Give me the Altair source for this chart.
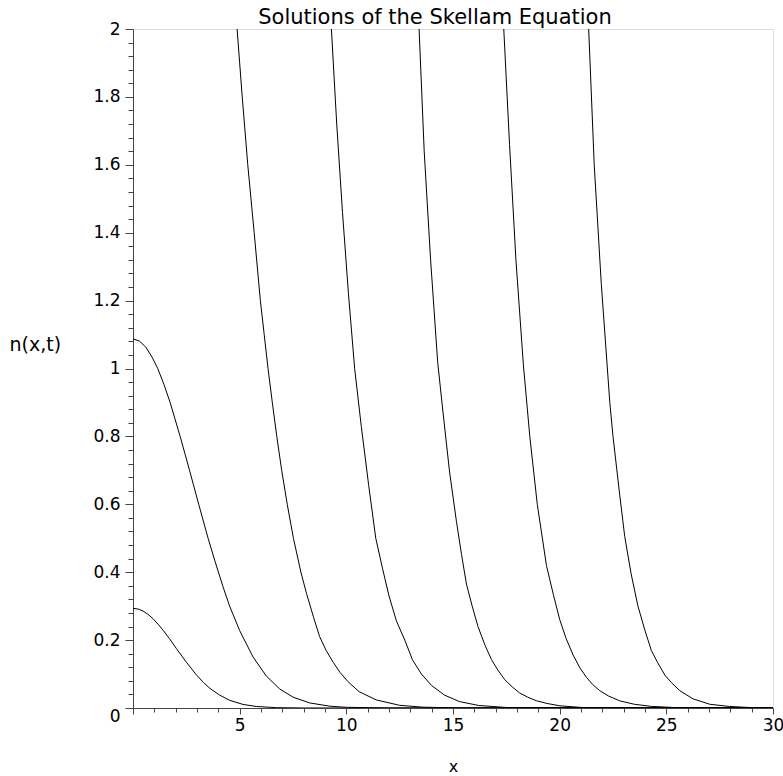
import altair as alt
import pandas as pd

# ---- data ----
c1_x = [0, 0.25, 0.47, 0.7, 0.94, 1.2, 1.41, 1.7, 2.03, 2.5, 2.97, 3.3, 3.6, 4.06, 4.53, 5.16, 5.78, 6.72, 8.0, 10.0, 30.0]
c1_y = [0.2936, 0.2913, 0.2856, 0.276, 0.263, 0.245, 0.229, 0.205, 0.1754, 0.135, 0.0977, 0.0753, 0.058, 0.038, 0.0226, 0.0105, 0.0045, 0.001, 0.0001, 0.0, 0.0]

c2_x = [0, 0.3, 0.6, 0.9, 1.16, 1.45, 1.74, 2.21, 2.65, 3.08, 3.52, 3.83, 4.22, 4.53, 5.0, 5.63, 6.25, 6.88, 7.5, 8.28, 9.22, 10.0, 12.0, 30.0]
c2_y = [1.087, 1.081, 1.063, 1.033, 1.0, 0.953, 0.9, 0.8, 0.7, 0.6, 0.5, 0.435, 0.357, 0.3, 0.228, 0.15, 0.094, 0.056, 0.032, 0.015, 0.0054, 0.002, 0.0001, 0.0]

c3_x = [4.88, 5.12, 5.38, 5.68, 5.97, 6.15, 6.33, 6.53, 6.74, 6.97, 7.23, 7.52, 7.87, 8.13, 8.45, 8.75, 9.05, 9.38, 9.7, 10.08, 10.6, 11.4, 12.5, 13.6, 15.0, 30.0]
c3_y = [2.0, 1.8, 1.6, 1.4, 1.2, 1.1, 1.0, 0.9, 0.8, 0.7, 0.6, 0.5, 0.4, 0.338, 0.27, 0.21, 0.17, 0.135, 0.105, 0.0775, 0.048, 0.0238, 0.0079, 0.0024, 0.0004, 0.0]

c4_x = [9.30, 9.55, 9.82, 10.1, 10.39, 10.7, 11.05, 11.38, 11.7, 12.0, 12.35, 12.74, 13.1, 13.52, 14.0, 14.6, 15.3, 16.2, 17.5, 30.0]
c4_y = [2.0, 1.72, 1.46, 1.22, 1.0, 0.83, 0.655, 0.5, 0.41, 0.33, 0.256, 0.2, 0.142, 0.1, 0.066, 0.038, 0.019, 0.0075, 0.0015, 0.0]

c5_x = [13.41, 13.65, 13.95, 14.28, 14.55, 14.84, 15.16, 15.4, 15.63, 15.9, 16.17, 16.5, 16.8, 17.1, 17.43, 17.8, 18.13, 18.5, 18.9, 19.4, 20.0, 21.0, 22.5, 30.0]
c5_y = [2.0, 1.64, 1.32, 1.02, 0.86, 0.695, 0.55, 0.452, 0.365, 0.3, 0.24, 0.185, 0.143, 0.112, 0.083, 0.061, 0.044, 0.032, 0.0215, 0.0135, 0.0065, 0.0017, 0.0003, 0.0]

c6_x = [17.38, 17.65, 17.95, 18.3, 18.6, 18.95, 19.38, 19.7, 20.0, 20.3, 20.63, 20.95, 21.26, 21.55, 21.88, 22.3, 22.82, 23.5, 24.3, 25.5, 30.0]
c6_y = [2.0, 1.66, 1.32, 1.01, 0.8, 0.6, 0.42, 0.335, 0.261, 0.205, 0.156, 0.118, 0.09, 0.069, 0.051, 0.035, 0.021, 0.011, 0.0047, 0.001, 0.0]

c7_x = [21.36, 21.62, 21.95, 22.35, 22.5, 22.82, 23.05, 23.35, 23.67, 24.0, 24.3, 24.6, 24.93, 25.25, 25.63, 26.25, 27.04, 27.97, 28.9, 30.0]
c7_y = [2.0, 1.6, 1.25, 0.9, 0.8, 0.625, 0.505, 0.395, 0.300, 0.228, 0.169, 0.133, 0.097, 0.074, 0.051, 0.027, 0.011, 0.0045, 0.0015, 0.0]

x_ticks = list(range(0, 31))
y_ticks = [round(i * 0.04, 2) for i in range(0, 51)]

title_text = "Solutions of the Skellam Equation"

curves = [(c1_x, c1_y), (c2_x, c2_y), (c3_x, c3_y), (c4_x, c4_y),
          (c5_x, c5_y), (c6_x, c6_y), (c7_x, c7_y)]
rows = []
for k, (xs, ys) in enumerate(curves):
    for i, (a, b) in enumerate(zip(xs, ys)):
        rows.append({"curve": k + 1, "order": i, "x": a, "n": b})
df = pd.DataFrame(rows)

FONT = "DejaVu Sans"
MAJOR_Y = "abs(datum.value * 5 - round(datum.value * 5)) < 0.001"

x_axis = alt.Axis(
    values=x_ticks,
    labelExpr="(datum.value % 5 == 0 && datum.value > 0) ? datum.label : ''",
    tickSize={"condition": {"test": "datum.value % 5 == 0", "value": 6}, "value": 4},
    grid=False,
    domainColor="#444",
    tickColor="#444",
    labelFont=FONT,
    labelFontSize=17,
    labelColor="black",
    labelPadding=3,
    labelOverlap=False,
    labelFlush=False,
    labelBound=False,
    title="x",
    titleFont=FONT,
    titleFontSize=16,
    titleFontWeight="normal",
    titleColor="black",
    titleBaseline="alphabetic",
    titleY=63,
)

y_axis = alt.Axis(
    values=y_ticks,
    labelExpr="(" + MAJOR_Y + ") ? format(datum.value, '~g') : ''",
    tickSize={"condition": {"test": MAJOR_Y, "value": 8}, "value": 5},
    labelOffset={"condition": {"test": "datum.value == 0", "value": 8}, "value": 0},
    grid=False,
    domainColor="#444",
    tickColor="#444",
    labelFont=FONT,
    labelFontSize=17,
    labelColor="black",
    labelPadding=5,
    labelOverlap=False,
    labelFlush=False,
    labelBound=False,
    title="n(x,t)",
    titleFont=FONT,
    titleFontSize=19,
    titleFontWeight="normal",
    titleColor="black",
    titleAngle=0,
    titleAlign="left",
    titleBaseline="middle",
    titleX=-124,
    titleY=315,
)

lines = (
    alt.Chart(df)
    .mark_line(color="black", strokeWidth=1, clip=True)
    .encode(
        x=alt.X("x:Q", scale=alt.Scale(domain=[0, 30], nice=False, zero=False), axis=x_axis),
        y=alt.Y("n:Q", scale=alt.Scale(domain=[0, 2], nice=False), axis=y_axis),
        detail="curve:N",
        order="order:Q",
    )
)

title = (
    alt.Chart(pd.DataFrame({"t": [title_text]}))
    .mark_text(font=FONT, fontSize=21, color="black", align="center", baseline="alphabetic")
    .encode(text="t:N", x=alt.value(302), y=alt.value(-5))
)

chart = (
    alt.layer(lines, title)
    .properties(
        width=640,
        height=679,
        autosize=alt.AutoSizeParams(type="none"),
        padding={"left": 133, "top": 29, "right": 10, "bottom": 68},
    )
    .configure_view(stroke=None)
    .configure(background="white")
)

chart.save("out.html", embed_options={"renderer": "svg", "actions": False})
